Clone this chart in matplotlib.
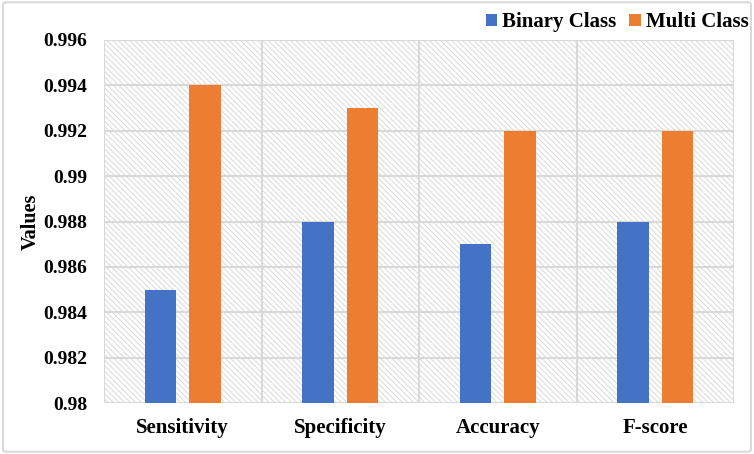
import matplotlib
matplotlib.use("Agg")
import matplotlib.pyplot as plt
import numpy as np
from matplotlib.patches import Rectangle, FancyBboxPatch

categories = ["Sensitivity", "Specificity", "Accuracy", "F-score"]
binary = [0.985, 0.988, 0.987, 0.988]
multi = [0.994, 0.993, 0.992, 0.992]
yticks = [0.98, 0.982, 0.984, 0.986, 0.988, 0.99, 0.992, 0.994, 0.996]
ytick_labels = ["0.98", "0.982", "0.984", "0.986", "0.988", "0.99", "0.992", "0.994", "0.996"]

plt.rcParams['font.family'] = ['Liberation Serif', 'DejaVu Serif']
plt.rcParams['font.weight'] = 'bold'
plt.rcParams['hatch.linewidth'] = 0.6
plt.rcParams['hatch.color'] = '#d4d4d4'

fig = plt.figure(figsize=(7.54, 4.54), dpi=100)
# figure border
fig.patches.append(FancyBboxPatch((0.004, 0.005), 0.992, 0.99, boxstyle="round,pad=0,rounding_size=0.005",
                                  transform=fig.transFigure, fill=False, edgecolor='#d9d9d9', linewidth=1.5))

ax = fig.add_axes([0.138, 0.1123, 0.8355, 0.7996])
x = np.arange(len(categories))
w = 0.2
off = 0.14

# hatched background
bg = Rectangle((0, 0), 1, 1, transform=ax.transAxes, facecolor='white', edgecolor='#d4d4d4',
               hatch='\\\\\\\\\\\\', linewidth=0, zorder=0)
ax.add_patch(bg)
ax.set_facecolor('white')

ax.bar(x - off, binary, w, color='#4472c4', label='Binary Class', zorder=3)
ax.bar(x + off, multi, w, color='#ed7d31', label='Multi Class', zorder=3)

ax.set_xlim(-0.5, len(categories) - 0.5)
ax.set_ylim(0.98, 0.996)
ax.set_yticks(yticks)
ax.set_yticklabels(ytick_labels)
ax.set_xticks(x)
ax.set_xticklabels(categories)
ax.tick_params(axis='x', length=0, labelsize=15, pad=11)
ax.tick_params(axis='y', length=0, labelsize=14, pad=12)

for yv in yticks:
    ax.axhline(yv, color='#d9d9d9', linewidth=1.5, zorder=1)
for xv in np.arange(-0.5, len(categories), 1.0):
    ax.axvline(xv, color='#d9d9d9', linewidth=1.5, zorder=1)
for s in ax.spines.values():
    s.set_visible(False)

ax.set_ylabel("Values", fontsize=14.5, fontweight='bold', labelpad=2)

leg = fig.legend(loc='upper right', bbox_to_anchor=(1.012, 1.005), ncol=2, frameon=False,
                 fontsize=15, handlelength=0.55, handleheight=0.55, handletextpad=0.25, columnspacing=0.6,
                 borderpad=0.2)

fig.savefig("out.png", dpi=100)
